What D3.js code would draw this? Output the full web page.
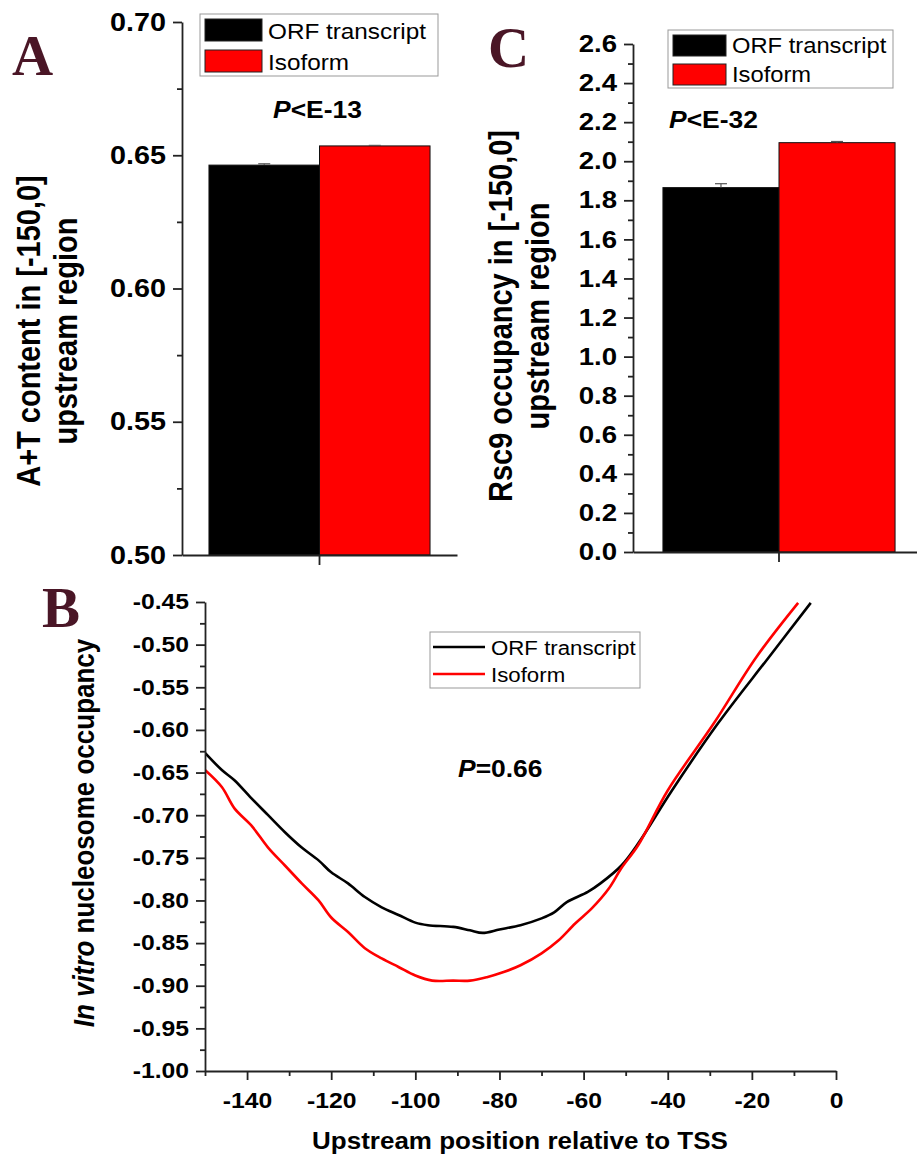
<!DOCTYPE html>
<html>
<head>
<meta charset="utf-8">
<script src="https://cdn.jsdelivr.net/npm/d3@7"></script>
<style>
	body { margin: 0; background: #fff; }
	text { font-family: "Liberation Sans", Arial, sans-serif; fill: #000; }
	.axis path, .axis line { stroke: #222; stroke-width: 1.8; }
</style>
</head>
<body>
<svg id="fig" width="917" height="1159"></svg>
<script>
const seriesNames = ["ORF transcript", "Isoform"];
const seriesColors = ["#000000", "#ff0000"];

// panel A: A+T content in [-150,0]
const atMeans = [0.6463, 0.6535];
const atErrs = [0.0005, 0.0002];
const atTicks = [0.50, 0.55, 0.60, 0.65, 0.70];
const atMinor = [0.525, 0.575, 0.625, 0.675];

// panel C: Rsc9 occupancy in [-150,0]
const rscMeans = [1.865, 2.095];
const rscErrs = [0.02, 0.006];
const rscTicks = [0.0, 0.2, 0.4, 0.6, 0.8, 1.0, 1.2, 1.4, 1.6, 1.8, 2.0, 2.2, 2.4, 2.6];
const rscMinor = [0.1, 0.3, 0.5, 0.7, 0.9, 1.1, 1.3, 1.5, 1.7, 1.9, 2.1, 2.3, 2.5];

// panel B: in vitro nucleosome occupancy profile
const orfPos = [-150, -146, -143, -139, -135, -131, -127, -123, -120, -116, -112, -108, -104, -100, -97, -91, -87, -84, -80, -75, -70, -67, -64, -59, -56, -51, -47, -39, -28, -16, -6];
const orfOcc = [-0.627, -0.647, -0.659, -0.680, -0.700, -0.720, -0.738, -0.753, -0.767, -0.780, -0.796, -0.808, -0.817, -0.826, -0.829, -0.831, -0.835, -0.838, -0.834, -0.829, -0.821, -0.814, -0.802, -0.790, -0.780, -0.759, -0.733, -0.671, -0.592, -0.515, -0.451];
const isoPos = [-150, -146, -143, -139, -135, -131, -127, -123, -120, -116, -112, -108, -104, -100, -96, -91, -87, -83, -79, -75, -70, -66, -62, -58, -54, -51, -47, -40, -29, -19, -9];
const isoOcc = [-0.647, -0.667, -0.692, -0.712, -0.738, -0.759, -0.780, -0.800, -0.820, -0.837, -0.856, -0.868, -0.878, -0.888, -0.894, -0.894, -0.894, -0.890, -0.884, -0.876, -0.862, -0.847, -0.827, -0.809, -0.786, -0.762, -0.735, -0.671, -0.592, -0.515, -0.451];
const posTicks = [-140, -120, -100, -80, -60, -40, -20, 0];
const posMinor = [-150, -130, -110, -90, -70, -50, -30, -10];
const occTicks = [-1.00, -0.95, -0.90, -0.85, -0.80, -0.75, -0.70, -0.65, -0.60, -0.55, -0.50, -0.45];
const occMinor = [-0.975, -0.925, -0.875, -0.825, -0.775, -0.725, -0.675, -0.625, -0.575, -0.525, -0.475];

const SX = 1.15; // the figure's text is a bit wider than plain Arial
const svg = d3.select("#fig");

// plain hyphen instead of d3's unicode minus
const fmt = (spec) => (d) => d3.format(spec)(d).replace("\u2212", "-");

function wideText(g, x, y, size, parts, anchor) {
	const t = g.append("text")
		.attr("transform", `translate(${x},${y}) scale(${SX},1)`)
		.attr("text-anchor", anchor || "start")
		.style("font-size", size + "px")
		.style("font-weight", "bold");
	parts.forEach((p) => {
		t.append("tspan").text(p.t).style("font-style", p.it ? "italic" : "normal");
	});
	return t;
}

function panelLetter(x, y, s) {
	svg.append("text")
		.attr("x", x).attr("y", y)
		.style("font-family", "'Liberation Serif', 'Times New Roman', serif")
		.style("font-weight", "bold")
		.style("font-size", "57px")
		.style("fill", "#4a1626")
		.text(s);
}

function styleTicks(axisG, size, pad) {
	axisG.selectAll(".tick text")
		.style("font-size", size + "px")
		.style("font-weight", "bold")
		.style("font-family", "'Liberation Sans', Arial, sans-serif")
		.attr("transform", `scale(${SX},1)`)
		.attr("x", -pad / SX);
}

function barPanel(p) {
	const g = svg.append("g");
	const x = d3.scaleBand().domain(["all"]).range([p.x0, p.x1])
		.paddingInner(0).paddingOuter(p.pad);
	const xs = d3.scaleBand().domain(seriesNames).range([0, x.bandwidth()]);
	const y = d3.scaleLinear().domain(p.domain).range([p.yBottom, p.yTop]);

	// bars
	g.selectAll(".bar")
		.data(p.means)
		.enter()
		.append("rect")
		.attr("class", "bar")
		.attr("x", (d, i) => x("all") + xs(seriesNames[i]))
		.attr("width", xs.bandwidth())
		.attr("y", (d) => y(d))
		.attr("height", (d) => p.yBottom - y(d))
		.attr("fill", (d, i) => seriesColors[i])
		.attr("stroke", "#111")
		.attr("stroke-width", 1);

	// error bars (upper half)
	p.means.forEach((m, i) => {
		const cx = x("all") + xs(seriesNames[i]) + xs.bandwidth() / 2;
		const top = y(m + p.errs[i]);
		g.append("line").attr("x1", cx).attr("x2", cx).attr("y1", y(m)).attr("y2", top)
			.attr("stroke", "#555").attr("stroke-width", 1.2);
		g.append("line").attr("x1", cx - 6).attr("x2", cx + 6).attr("y1", top).attr("y2", top)
			.attr("stroke", "#555").attr("stroke-width", 1.2);
	});

	const ya = g.append("g").attr("class", "axis")
		.attr("transform", `translate(${p.x0},0)`)
		.call(d3.axisLeft(y).tickValues(p.major).tickSize(9).tickSizeOuter(0)
			.tickFormat(fmt(p.fmt)));
	styleTicks(ya, p.tickFont, 16);
	g.append("g").attr("class", "axis")
		.attr("transform", `translate(${p.x0},0)`)
		.call(d3.axisLeft(y).tickValues(p.minor).tickSize(5).tickFormat(""))
		.call((a) => a.select(".domain").remove());

	g.append("g").attr("class", "axis")
		.attr("transform", `translate(0,${p.yBottom})`)
		.call(d3.axisBottom(x).tickSize(10).tickSizeOuter(0).tickFormat(""));

	// y title, two lines
	p.title.forEach((line, i) => {
		g.append("text")
			.attr("transform", `translate(${p.titleX[i]},${p.titleY}) rotate(-90) scale(1,1.12)`)
			.attr("text-anchor", "middle")
			.style("font-size", "29px")
			.style("font-weight", "bold")
			.text(line);
	});

	// legend
	const L = p.legend;
	g.append("rect").attr("x", L.x).attr("y", L.y).attr("width", L.w).attr("height", L.h)
		.attr("fill", "#fff").attr("stroke", "#999").attr("stroke-width", 1);
	seriesNames.forEach((name, i) => {
		g.append("rect")
			.attr("x", L.x + 5).attr("y", L.y + 5 + i * L.row)
			.attr("width", L.sw).attr("height", L.sh)
			.attr("fill", seriesColors[i]).attr("stroke", "#222").attr("stroke-width", 1);
		g.append("text")
			.attr("transform", `translate(${L.x + L.sw + 11},${L.y + L.base + i * L.row}) scale(1.08,1)`)
			.style("font-size", L.font + "px")
			.text(name);
	});

	wideText(g, p.pX, p.pY, 23, [{ t: "P", it: true }, { t: p.pText }]);
}

barPanel({
	x0: 182, x1: 457, pad: 0.122, yTop: 22, yBottom: 555,
	domain: [0.50, 0.70], major: atTicks, minor: atMinor, fmt: ".2f", tickFont: 25,
	means: atMeans, errs: atErrs,
	title: ["A+T content in [-150,0]", "upstream region"], titleX: [40, 77], titleY: 331,
	legend: { x: 200, y: 14, w: 238, h: 62, sw: 57, sh: 22, row: 31, base: 25, font: 22.5 },
	pX: 273, pY: 118, pText: "<E-13"
});

barPanel({
	x0: 633, x1: 925, pad: 0.129, yTop: 44, yBottom: 552,
	domain: [0, 2.6], major: rscTicks, minor: rscMinor, fmt: ".1f", tickFont: 24,
	means: rscMeans, errs: rscErrs,
	title: ["Rsc9 occupancy in [-150,0]", "upstream region"], titleX: [512, 549], titleY: 316,
	legend: { x: 668, y: 30, w: 225, h: 58, sw: 53, sh: 21, row: 29, base: 23, font: 22 },
	pX: 669, pY: 128, pText: "<E-32"
});

// panel B: line chart
const xB = d3.scaleLinear().domain([-150, 0]).range([205, 836]);
const yB = d3.scaleLinear().domain([-1.00, -0.45]).range([1071, 602]);
const gB = svg.append("g");

gB.append("clipPath").attr("id", "clipB")
	.append("rect").attr("x", xB(-150)).attr("y", yB(-0.45))
	.attr("width", xB(0) - xB(-150)).attr("height", yB(-1.0) - yB(-0.45));

const line = d3.line()
	.x((d) => xB(d[0]))
	.y((d) => yB(d[1]))
	.curve(d3.curveCatmullRom.alpha(0.5));

const profiles = [
	d3.zip(orfPos, orfOcc),
	d3.zip(isoPos, isoOcc)
];
gB.selectAll(".profile")
	.data(profiles)
	.enter()
	.append("path")
	.attr("class", "profile")
	.attr("clip-path", "url(#clipB)")
	.attr("d", line)
	.attr("fill", "none")
	.attr("stroke", (d, i) => seriesColors[i])
	.attr("stroke-width", 2.6);

const yaB = gB.append("g").attr("class", "axis")
	.attr("transform", `translate(${xB(-150)},0)`)
	.call(d3.axisLeft(yB).tickValues(occTicks).tickSize(9).tickSizeOuter(0)
		.tickFormat(fmt(".2f")));
styleTicks(yaB, 21.5, 16);
gB.append("g").attr("class", "axis")
	.attr("transform", `translate(${xB(-150)},0)`)
	.call(d3.axisLeft(yB).tickValues(occMinor).tickSize(5).tickFormat(""))
	.call((a) => a.select(".domain").remove());

const xaB = gB.append("g").attr("class", "axis")
	.attr("transform", `translate(0,${yB(-1.0)})`)
	.call(d3.axisBottom(xB).tickValues(posTicks).tickSize(9).tickPadding(13).tickSizeOuter(0)
		.tickFormat(fmt("d")));
xaB.selectAll(".tick text")
	.style("font-size", "21.5px")
	.style("font-weight", "bold")
	.attr("transform", `scale(${SX},1)`);
gB.append("g").attr("class", "axis")
	.attr("transform", `translate(0,${yB(-1.0)})`)
	.call(d3.axisBottom(xB).tickValues(posMinor).tickSize(5).tickFormat(""))
	.call((a) => a.select(".domain").remove());

wideText(gB, 520, 1149, 23, [{ t: "Upstream position relative to TSS" }], "middle")
	.attr("transform", `translate(520,1149) scale(1.13,1)`);

gB.append("text")
	.attr("transform", `translate(94,833) rotate(-90) scale(1,1.12)`)
	.attr("text-anchor", "middle")
	.style("font-size", "26px")
	.style("font-weight", "bold")
	.call((t) => {
		t.append("tspan").style("font-style", "italic").text("In vitro");
		t.append("tspan").text(" nucleosome occupancy");
	});

// legend B
gB.append("rect").attr("x", 430).attr("y", 632).attr("width", 210).attr("height", 56)
	.attr("fill", "#fff").attr("stroke", "#999").attr("stroke-width", 1);
seriesNames.forEach((name, i) => {
	const ly = 647 + i * 27;
	gB.append("line").attr("x1", 433).attr("x2", 485).attr("y1", ly).attr("y2", ly)
		.attr("stroke", seriesColors[i]).attr("stroke-width", 2.6);
	gB.append("text")
		.attr("transform", `translate(491,${ly + 8}) scale(1.06,1)`)
		.style("font-size", "21px")
		.text(name);
});

wideText(gB, 458, 777, 23, [{ t: "P", it: true }, { t: "=0.66" }]);

panelLetter(12, 75, "A");
panelLetter(488, 67, "C");
panelLetter(42, 627, "B");
</script>
</body>
</html>
